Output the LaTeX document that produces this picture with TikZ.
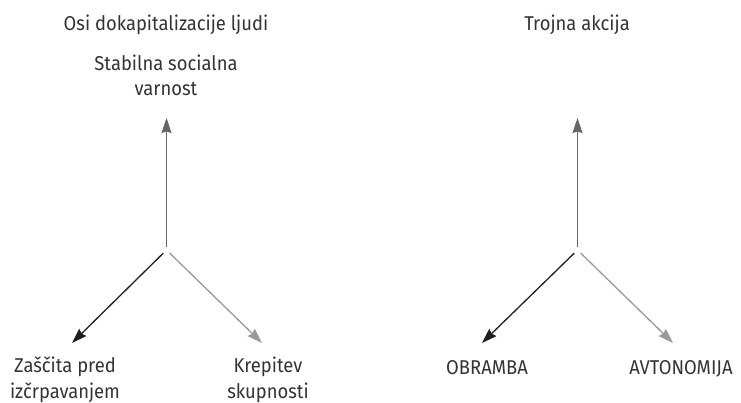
\documentclass[tikz,border=0pt]{standalone}
\usepackage{fontspec}
\setmainfont[FakeStretch=0.92]{Fira Sans}
\usetikzlibrary{arrows.meta}

\tikzset{
  lbl/.style={font=\fontsize{20}{25.5}\selectfont, align=center, inner sep=0pt, anchor=base, text=black!80},
  axis/.style={line width=1.3pt, -{Stealth[length=15pt,width=10pt,inset=1.5pt]}},
  hub/.style={rectangle, minimum width=10pt, minimum height=6pt, inner sep=0pt},
}

\begin{document}
\begin{tikzpicture}[x=1pt,y=-1pt]
  \useasboundingbox (0,0) rectangle (741,403);
  % left: axes
  \node [lbl] (osiT) at (166,31) {Osi dokapitalizacije ljudi};
  \node [lbl] (osiU) at (166,96) {Stabilna socialna\\varnost};
  \node [lbl] (osiL) at (65,398) {Zaščita pred\\izčrpavanjem};
  \node [lbl] (osiR) at (268,398) {Krepitev\\skupnosti};
  \node [hub] (osiC) at (166.5,250) {};
  \coordinate (osiUt) at (166.5,118);
  \coordinate (osiLt) at (72,343);
  \coordinate (osiRt) at (262,343);
  \draw [axis, black!60] (osiC) -- (osiUt);
  \draw [axis, black!88] (osiC) -- (osiLt);
  \draw [axis, black!40] (osiC) -- (osiRt);
  % right: triple action
  \node [lbl] (troT) at (577,31) {Trojna akcija};
  \node [lbl] (troL) at (487,374) {OBRAMBA};
  \node [lbl] (troR) at (681,374) {AVTONOMIJA};
  \node [hub] (troC) at (577.5,250) {};
  \coordinate (troUt) at (577.5,118);
  \coordinate (troLt) at (482,343);
  \coordinate (troRt) at (673,343);
  \draw [axis, black!60] (troC) -- (troUt);
  \draw [axis, black!88] (troC) -- (troLt);
  \draw [axis, black!40] (troC) -- (troRt);
\end{tikzpicture}
\end{document}
